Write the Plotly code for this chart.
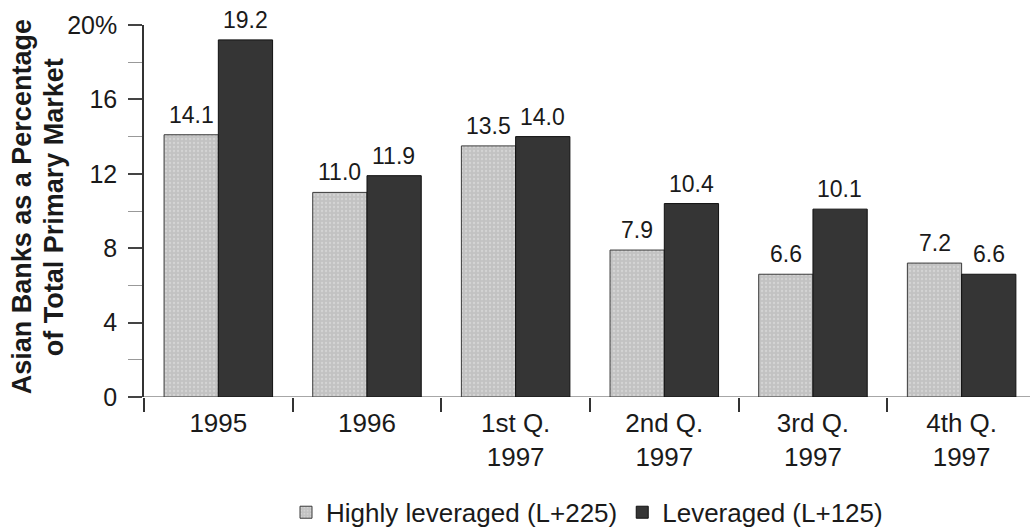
import plotly.graph_objects as go

# Share of the primary loan market taken by Asian banks
periods = ["1995", "1996", "1st Q.<br>1997", "2nd Q.<br>1997", "3rd Q.<br>1997", "4th Q.<br>1997"]
highly_leveraged = [14.1, 11.0, 13.5, 7.9, 6.6, 7.2]
leveraged = [19.2, 11.9, 14.0, 10.4, 10.1, 6.6]
y_ticks = [0, 4, 8, 12, 16, 20]
y_tick_labels = ["0", "4", "8", "12", "16", "20%"]

FONT = "Liberation Sans, Arial, Helvetica, sans-serif"
INK = "#1a1a1a"

fig = go.Figure()
fig.add_trace(go.Bar(
    x=periods, y=highly_leveraged, name="Highly leveraged (L+225)",
    marker=dict(color="#c4c4c4",
                line=dict(color="#3a3a3a", width=1),
                pattern=dict(shape=".", fgcolor="#e6e6e6", bgcolor="#c2c2c2",
                             size=4, solidity=0.25)),
))
fig.add_trace(go.Bar(
    x=periods, y=leveraged, name="Leveraged (L+125)",
    marker=dict(color="#353535", line=dict(color="#111111", width=1)),
))

# value labels above each bar (left bar of the pair / right bar of the pair);
# x is the category index so that year-like labels are not read as numbers
half_bar_px = 27
for series, shift in ((highly_leveraged, -half_bar_px), (leveraged, half_bar_px)):
    for i, v in enumerate(series):
        fig.add_annotation(
            x=i, y=v, xref="x", yref="y", text=f"{v:.1f}",
            showarrow=False, xshift=shift, yshift=5, yanchor="bottom",
            font=dict(size=23, color=INK, family=FONT),
        )

fig.update_layout(
    width=1030, height=529,
    margin=dict(l=144, r=0, t=25, b=132, autoexpand=False),
    paper_bgcolor="white", plot_bgcolor="white",
    font=dict(family=FONT, size=25, color=INK),
    barmode="group", bargap=0.27, bargroupgap=0.0,
    showlegend=True,
    legend=dict(orientation="h", x=0.5, xanchor="center", y=-0.31, yanchor="middle",
                font=dict(size=26), itemwidth=30, traceorder="normal"),
    xaxis=dict(
        type="category", range=[-0.5, 5.46], tickson="boundaries",
        ticks="outside", ticklen=14, tickcolor="#333333", tickwidth=1.5,
        showline=False, showgrid=False, zeroline=False, automargin=False,
        tickfont=dict(size=26), ticklabelstandoff=8,
    ),
    yaxis=dict(
        range=[0, 20], tickvals=y_ticks, ticktext=y_tick_labels,
        ticks="outside", ticklen=14, tickcolor="#444444", tickwidth=1.5,
        minor=dict(dtick=2, tick0=0, ticks="outside", ticklen=14,
                   tickcolor="#999999", tickwidth=1),
        showline=True, linecolor="#333333", linewidth=1.5,
        showgrid=False, zeroline=False, automargin=False,
        tickfont=dict(size=25), ticklabelstandoff=6,
    ),
)

# baseline along zero, running a little past the value axis
fig.add_shape(type="line", xref="paper", yref="y", x0=-0.016, x1=1, y0=0, y1=0,
              line=dict(color="#8a8a8a", width=1.5), layer="below")

# two-line rotated value-axis title
plot_w = 886
for text, x_px in (("Asian Banks as a Percentage", 22), ("of Total Primary Market", 54)):
    fig.add_annotation(
        text=f"<b>{text}</b>", xref="paper", yref="paper",
        x=(x_px - 144) / plot_w, y=0.51, textangle=-90, showarrow=False,
        font=dict(size=27, color=INK, family=FONT),
        xanchor="center", yanchor="middle",
    )

fig.write_html("out.html")
